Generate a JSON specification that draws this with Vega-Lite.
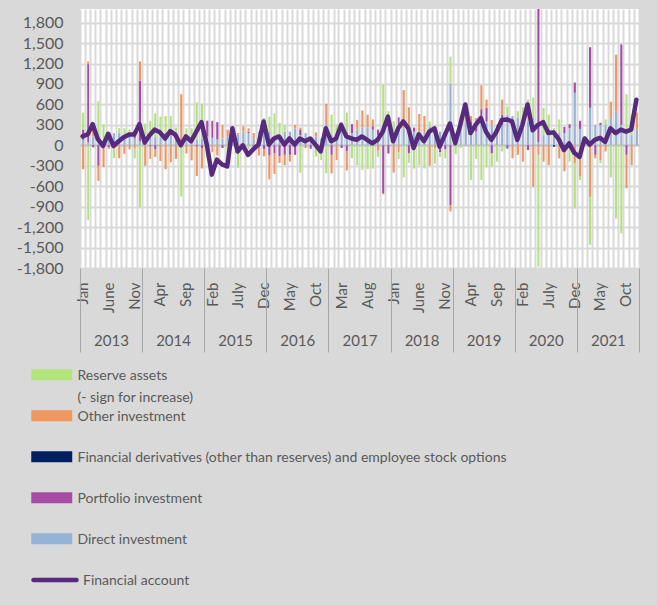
{
"$schema": "https://vega.github.io/schema/vega-lite/v6.json",
"width": 559, "height": 259,
"autosize": {"type": "none"},
"padding": {"left": 80, "top": 9, "right": 18, "bottom": 337},
"background": "#d9d9d9",
"config": {
  "font": "Lato",
  "view": {"fill": "white", "stroke": null},
  "axis": {"labelFont": "Lato", "labelColor": "#595959", "labelFontSize": 15},
  "legend": {"labelFont": "Lato", "labelColor": "#595959", "labelFontSize": 14, "padding": 0}
},
"datasets": {
"bars": [
{"d":"2013-01","s":"Direct investment","v":80},{"d":"2013-01","s":"Portfolio investment","v":150},{"d":"2013-01","s":"Other investment","v":-350},{"d":"2013-01","s":"Reserve assets","v":250},
{"d":"2013-02","s":"Direct investment","v":40},{"d":"2013-02","s":"Portfolio investment","v":1150},{"d":"2013-02","s":"Other investment","v":40},{"d":"2013-02","s":"Reserve assets","v":-1100},
{"d":"2013-03","s":"Direct investment","v":130},{"d":"2013-03","s":"Portfolio investment","v":-30},{"d":"2013-03","s":"Other investment","v":170},
{"d":"2013-04","s":"Direct investment","v":30},{"d":"2013-04","s":"Portfolio investment","v":-300},{"d":"2013-04","s":"Other investment","v":-220},{"d":"2013-04","s":"Reserve assets","v":615},
{"d":"2013-05","s":"Direct investment","v":60},{"d":"2013-05","s":"Other investment","v":-320},{"d":"2013-05","s":"Reserve assets","v":250},
{"d":"2013-06","s":"Direct investment","v":170},{"d":"2013-06","s":"Portfolio investment","v":-30},{"d":"2013-06","s":"Other investment","v":-20},
{"d":"2013-07","s":"Direct investment","v":180},{"d":"2013-07","s":"Other investment","v":-60},{"d":"2013-07","s":"Reserve assets","v":-130},
{"d":"2013-08","s":"Direct investment","v":180},{"d":"2013-08","s":"Other investment","v":-190},{"d":"2013-08","s":"Reserve assets","v":70},
{"d":"2013-09","s":"Direct investment","v":130},{"d":"2013-09","s":"Other investment","v":-125},{"d":"2013-09","s":"Reserve assets","v":120},
{"d":"2013-10","s":"Direct investment","v":150},{"d":"2013-10","s":"Other investment","v":-60},{"d":"2013-10","s":"Reserve assets","v":80},
{"d":"2013-11","s":"Direct investment","v":100},{"d":"2013-11","s":"Portfolio investment","v":100},{"d":"2013-11","s":"Other investment","v":-50},{"d":"2013-11","s":"Reserve assets","v":-140},
{"d":"2013-12","s":"Direct investment","v":60},{"d":"2013-12","s":"Portfolio investment","v":890},{"d":"2013-12","s":"Other investment","v":280},{"d":"2013-12","s":"Reserve assets","v":-910},
{"d":"2014-01","s":"Direct investment","v":100},{"d":"2014-01","s":"Other investment","v":-300},{"d":"2014-01","s":"Reserve assets","v":220},
{"d":"2014-02","s":"Direct investment","v":130},{"d":"2014-02","s":"Portfolio investment","v":-20},{"d":"2014-02","s":"Other investment","v":-180},{"d":"2014-02","s":"Reserve assets","v":230},
{"d":"2014-03","s":"Direct investment","v":120},{"d":"2014-03","s":"Portfolio investment","v":-60},{"d":"2014-03","s":"Other investment","v":-110},{"d":"2014-03","s":"Reserve assets","v":350},
{"d":"2014-04","s":"Direct investment","v":120},{"d":"2014-04","s":"Other investment","v":-230},{"d":"2014-04","s":"Reserve assets","v":300},
{"d":"2014-05","s":"Direct investment","v":100},{"d":"2014-05","s":"Portfolio investment","v":80},{"d":"2014-05","s":"Other investment","v":-350},{"d":"2014-05","s":"Reserve assets","v":250},
{"d":"2014-06","s":"Direct investment","v":150},{"d":"2014-06","s":"Portfolio investment","v":70},{"d":"2014-06","s":"Other investment","v":-250},{"d":"2014-06","s":"Reserve assets","v":210},
{"d":"2014-07","s":"Direct investment","v":200},{"d":"2014-07","s":"Other investment","v":-200},{"d":"2014-07","s":"Reserve assets","v":60},
{"d":"2014-08","s":"Direct investment","v":10},{"d":"2014-08","s":"Other investment","v":740},{"d":"2014-08","s":"Reserve assets","v":-750},
{"d":"2014-09","s":"Direct investment","v":150},{"d":"2014-09","s":"Other investment","v":-120},{"d":"2014-09","s":"Reserve assets","v":100},
{"d":"2014-10","s":"Direct investment","v":120},{"d":"2014-10","s":"Other investment","v":-220},{"d":"2014-10","s":"Reserve assets","v":130},
{"d":"2014-11","s":"Direct investment","v":80},{"d":"2014-11","s":"Portfolio investment","v":-20},{"d":"2014-11","s":"Other investment","v":-430},{"d":"2014-11","s":"Reserve assets","v":550},
{"d":"2014-12","s":"Direct investment","v":100},{"d":"2014-12","s":"Portfolio investment","v":-40},{"d":"2014-12","s":"Other investment","v":-300},{"d":"2014-12","s":"Reserve assets","v":510},
{"d":"2015-01","s":"Direct investment","v":130},{"d":"2015-01","s":"Portfolio investment","v":230},{"d":"2015-01","s":"Other investment","v":-120},{"d":"2015-01","s":"Reserve assets","v":-60},
{"d":"2015-02","s":"Direct investment","v":110},{"d":"2015-02","s":"Portfolio investment","v":250},{"d":"2015-02","s":"Other investment","v":-100},
{"d":"2015-03","s":"Direct investment","v":90},{"d":"2015-03","s":"Portfolio investment","v":250},{"d":"2015-03","s":"Other investment","v":-150},
{"d":"2015-04","s":"Direct investment","v":100},{"d":"2015-04","s":"Portfolio investment","v":-40},{"d":"2015-04","s":"Other investment","v":200},
{"d":"2015-05","s":"Direct investment","v":130},{"d":"2015-05","s":"Other investment","v":100},{"d":"2015-05","s":"Reserve assets","v":-320},
{"d":"2015-06","s":"Direct investment","v":180},{"d":"2015-06","s":"Other investment","v":50},
{"d":"2015-07","s":"Direct investment","v":160},{"d":"2015-07","s":"Other investment","v":20},{"d":"2015-07","s":"Reserve assets","v":-330},
{"d":"2015-08","s":"Direct investment","v":200},{"d":"2015-08","s":"Other investment","v":80},{"d":"2015-08","s":"Reserve assets","v":-30},
{"d":"2015-09","s":"Direct investment","v":180},{"d":"2015-09","s":"Portfolio investment","v":20},{"d":"2015-09","s":"Other investment","v":50},{"d":"2015-09","s":"Reserve assets","v":-60},
{"d":"2015-10","s":"Direct investment","v":100},{"d":"2015-10","s":"Portfolio investment","v":-30},{"d":"2015-10","s":"Other investment","v":80},{"d":"2015-10","s":"Reserve assets","v":-30},
{"d":"2015-11","s":"Direct investment","v":200},{"d":"2015-11","s":"Other investment","v":-150},
{"d":"2015-12","s":"Direct investment","v":200},{"d":"2015-12","s":"Portfolio investment","v":-60},{"d":"2015-12","s":"Other investment","v":-100},{"d":"2015-12","s":"Reserve assets","v":200},
{"d":"2016-01","s":"Direct investment","v":200},{"d":"2016-01","s":"Portfolio investment","v":-150},{"d":"2016-01","s":"Other investment","v":-350},{"d":"2016-01","s":"Reserve assets","v":220},
{"d":"2016-02","s":"Direct investment","v":150},{"d":"2016-02","s":"Portfolio investment","v":-120},{"d":"2016-02","s":"Other investment","v":-300},{"d":"2016-02","s":"Reserve assets","v":320},
{"d":"2016-03","s":"Direct investment","v":150},{"d":"2016-03","s":"Portfolio investment","v":-160},{"d":"2016-03","s":"Other investment","v":-100},{"d":"2016-03","s":"Reserve assets","v":180},
{"d":"2016-04","s":"Direct investment","v":200},{"d":"2016-04","s":"Portfolio investment","v":-140},{"d":"2016-04","s":"Other investment","v":-150},{"d":"2016-04","s":"Reserve assets","v":100},
{"d":"2016-05","s":"Direct investment","v":200},{"d":"2016-05","s":"Portfolio investment","v":-140},{"d":"2016-05","s":"Other investment","v":-100},
{"d":"2016-06","s":"Direct investment","v":250},{"d":"2016-06","s":"Portfolio investment","v":-140},{"d":"2016-06","s":"Other investment","v":50},
{"d":"2016-07","s":"Direct investment","v":150},{"d":"2016-07","s":"Portfolio investment","v":80},{"d":"2016-07","s":"Other investment","v":30},{"d":"2016-07","s":"Reserve assets","v":-400},
{"d":"2016-08","s":"Direct investment","v":180},{"d":"2016-08","s":"Other investment","v":-40},
{"d":"2016-09","s":"Direct investment","v":80},{"d":"2016-09","s":"Portfolio investment","v":-50},
{"d":"2016-10","s":"Direct investment","v":130},{"d":"2016-10","s":"Other investment","v":60},{"d":"2016-10","s":"Reserve assets","v":-165},
{"d":"2016-11","s":"Direct investment","v":100},{"d":"2016-11","s":"Other investment","v":-50},{"d":"2016-11","s":"Reserve assets","v":-165},
{"d":"2016-12","s":"Direct investment","v":300},{"d":"2016-12","s":"Other investment","v":310},{"d":"2016-12","s":"Reserve assets","v":-410},
{"d":"2017-01","s":"Direct investment","v":150},{"d":"2017-01","s":"Portfolio investment","v":-140},{"d":"2017-01","s":"Other investment","v":-270},{"d":"2017-01","s":"Reserve assets","v":300},
{"d":"2017-02","s":"Direct investment","v":100},{"d":"2017-02","s":"Other investment","v":-215},{"d":"2017-02","s":"Reserve assets","v":200},
{"d":"2017-03","s":"Direct investment","v":300},{"d":"2017-03","s":"Portfolio investment","v":-40},{"d":"2017-03","s":"Other investment","v":40},
{"d":"2017-04","s":"Direct investment","v":200},{"d":"2017-04","s":"Portfolio investment","v":-90},{"d":"2017-04","s":"Other investment","v":-280},{"d":"2017-04","s":"Reserve assets","v":280},
{"d":"2017-05","s":"Direct investment","v":180},{"d":"2017-05","s":"Portfolio investment","v":130},{"d":"2017-05","s":"Reserve assets","v":-190},
{"d":"2017-06","s":"Direct investment","v":230},{"d":"2017-06","s":"Other investment","v":140},{"d":"2017-06","s":"Reserve assets","v":-290},
{"d":"2017-07","s":"Direct investment","v":260},{"d":"2017-07","s":"Other investment","v":250},{"d":"2017-07","s":"Reserve assets","v":-360},
{"d":"2017-08","s":"Direct investment","v":260},{"d":"2017-08","s":"Other investment","v":190},{"d":"2017-08","s":"Reserve assets","v":-350},
{"d":"2017-09","s":"Direct investment","v":230},{"d":"2017-09","s":"Portfolio investment","v":50},{"d":"2017-09","s":"Other investment","v":100},{"d":"2017-09","s":"Reserve assets","v":-340},
{"d":"2017-10","s":"Direct investment","v":150},{"d":"2017-10","s":"Portfolio investment","v":80},{"d":"2017-10","s":"Other investment","v":-80},{"d":"2017-10","s":"Reserve assets","v":-90},
{"d":"2017-11","s":"Direct investment","v":200},{"d":"2017-11","s":"Portfolio investment","v":-700},{"d":"2017-11","s":"Other investment","v":-20},{"d":"2017-11","s":"Reserve assets","v":690},
{"d":"2017-12","s":"Direct investment","v":250},{"d":"2017-12","s":"Portfolio investment","v":-120},{"d":"2017-12","s":"Reserve assets","v":250},
{"d":"2018-01","s":"Direct investment","v":200},{"d":"2018-01","s":"Other investment","v":-400},{"d":"2018-01","s":"Reserve assets","v":150},
{"d":"2018-02","s":"Direct investment","v":200},{"d":"2018-02","s":"Portfolio investment","v":210},{"d":"2018-02","s":"Other investment","v":-100},{"d":"2018-02","s":"Reserve assets","v":-100},
{"d":"2018-03","s":"Direct investment","v":250},{"d":"2018-03","s":"Other investment","v":560},{"d":"2018-03","s":"Reserve assets","v":-470},
{"d":"2018-04","s":"Direct investment","v":200},{"d":"2018-04","s":"Portfolio investment","v":-120},{"d":"2018-04","s":"Other investment","v":360},{"d":"2018-04","s":"Reserve assets","v":-140},
{"d":"2018-05","s":"Direct investment","v":200},{"d":"2018-05","s":"Portfolio investment","v":60},{"d":"2018-05","s":"Reserve assets","v":-340},
{"d":"2018-06","s":"Direct investment","v":180},{"d":"2018-06","s":"Other investment","v":280},{"d":"2018-06","s":"Reserve assets","v":-290},
{"d":"2018-07","s":"Direct investment","v":180},{"d":"2018-07","s":"Other investment","v":250},{"d":"2018-07","s":"Reserve assets","v":-340},
{"d":"2018-08","s":"Direct investment","v":270},{"d":"2018-08","s":"Other investment","v":-300},{"d":"2018-08","s":"Reserve assets","v":80},
{"d":"2018-09","s":"Direct investment","v":150},{"d":"2018-09","s":"Other investment","v":-40},{"d":"2018-09","s":"Reserve assets","v":-230},
{"d":"2018-10","s":"Direct investment","v":200},{"d":"2018-10","s":"Portfolio investment","v":-100},{"d":"2018-10","s":"Reserve assets","v":-70},
{"d":"2018-11","s":"Direct investment","v":130},{"d":"2018-11","s":"Portfolio investment","v":-60},{"d":"2018-11","s":"Other investment","v":60},{"d":"2018-11","s":"Reserve assets","v":-130},
{"d":"2018-12","s":"Direct investment","v":900},{"d":"2018-12","s":"Portfolio investment","v":-880},{"d":"2018-12","s":"Other investment","v":-90},{"d":"2018-12","s":"Reserve assets","v":400},
{"d":"2019-01","s":"Direct investment","v":150},{"d":"2019-01","s":"Other investment","v":30},{"d":"2019-01","s":"Reserve assets","v":-130},
{"d":"2019-02","s":"Direct investment","v":250},{"d":"2019-02","s":"Portfolio investment","v":50},{"d":"2019-02","s":"Reserve assets","v":-40},
{"d":"2019-03","s":"Direct investment","v":350},{"d":"2019-03","s":"Other investment","v":100},{"d":"2019-03","s":"Reserve assets","v":100},
{"d":"2019-04","s":"Direct investment","v":260},{"d":"2019-04","s":"Portfolio investment","v":90},{"d":"2019-04","s":"Other investment","v":80},{"d":"2019-04","s":"Reserve assets","v":-510},
{"d":"2019-05","s":"Direct investment","v":200},{"d":"2019-05","s":"Portfolio investment","v":100},{"d":"2019-05","s":"Other investment","v":100},{"d":"2019-05","s":"Reserve assets","v":-200},
{"d":"2019-06","s":"Direct investment","v":330},{"d":"2019-06","s":"Portfolio investment","v":200},{"d":"2019-06","s":"Other investment","v":350},{"d":"2019-06","s":"Reserve assets","v":-510},
{"d":"2019-07","s":"Direct investment","v":350},{"d":"2019-07","s":"Portfolio investment","v":200},{"d":"2019-07","s":"Other investment","v":120},{"d":"2019-07","s":"Reserve assets","v":-320},
{"d":"2019-08","s":"Direct investment","v":300},{"d":"2019-08","s":"Portfolio investment","v":-120},{"d":"2019-08","s":"Other investment","v":70},{"d":"2019-08","s":"Reserve assets","v":-190},
{"d":"2019-09","s":"Direct investment","v":300},{"d":"2019-09","s":"Reserve assets","v":-240},
{"d":"2019-10","s":"Direct investment","v":300},{"d":"2019-10","s":"Portfolio investment","v":150},{"d":"2019-10","s":"Other investment","v":220},{"d":"2019-10","s":"Reserve assets","v":-90},
{"d":"2019-11","s":"Direct investment","v":450},{"d":"2019-11","s":"Portfolio investment","v":-50},{"d":"2019-11","s":"Reserve assets","v":120},
{"d":"2019-12","s":"Direct investment","v":430},{"d":"2019-12","s":"Other investment","v":-190},
{"d":"2020-01","s":"Direct investment","v":400},{"d":"2020-01","s":"Other investment","v":-140},{"d":"2020-01","s":"Reserve assets","v":100},
{"d":"2020-02","s":"Direct investment","v":300},{"d":"2020-02","s":"Other investment","v":-240},{"d":"2020-02","s":"Reserve assets","v":260},
{"d":"2020-03","s":"Direct investment","v":350},{"d":"2020-03","s":"Portfolio investment","v":-70},{"d":"2020-03","s":"Reserve assets","v":320},
{"d":"2020-04","s":"Direct investment","v":400},{"d":"2020-04","s":"Other investment","v":-610},{"d":"2020-04","s":"Reserve assets","v":300},
{"d":"2020-05","s":"Direct investment","v":50},{"d":"2020-05","s":"Portfolio investment","v":2100},{"d":"2020-05","s":"Other investment","v":-140},{"d":"2020-05","s":"Reserve assets","v":-1640},
{"d":"2020-06","s":"Direct investment","v":150},{"d":"2020-06","s":"Other investment","v":-240},{"d":"2020-06","s":"Reserve assets","v":400},
{"d":"2020-07","s":"Direct investment","v":150},{"d":"2020-07","s":"Other investment","v":-290},{"d":"2020-07","s":"Reserve assets","v":300},
{"d":"2020-08","s":"Direct investment","v":150},{"d":"2020-08","s":"Financial derivatives (other than reserves) and employee stock options","v":-20},{"d":"2020-08","s":"Reserve assets","v":100},
{"d":"2020-09","s":"Direct investment","v":180},{"d":"2020-09","s":"Other investment","v":-190},{"d":"2020-09","s":"Reserve assets","v":200},
{"d":"2020-10","s":"Direct investment","v":180},{"d":"2020-10","s":"Portfolio investment","v":90},{"d":"2020-10","s":"Financial derivatives (other than reserves) and employee stock options","v":-20},{"d":"2020-10","s":"Other investment","v":-360},
{"d":"2020-11","s":"Direct investment","v":250},{"d":"2020-11","s":"Portfolio investment","v":60},{"d":"2020-11","s":"Reserve assets","v":-240},
{"d":"2020-12","s":"Direct investment","v":770},{"d":"2020-12","s":"Portfolio investment","v":150},{"d":"2020-12","s":"Other investment","v":-265},{"d":"2020-12","s":"Reserve assets","v":-660},
{"d":"2021-01","s":"Direct investment","v":240},{"d":"2021-01","s":"Portfolio investment","v":120},{"d":"2021-01","s":"Other investment","v":-460},{"d":"2021-01","s":"Reserve assets","v":-50},
{"d":"2021-02","s":"Direct investment","v":80},{"d":"2021-02","s":"Reserve assets","v":50},
{"d":"2021-03","s":"Direct investment","v":550},{"d":"2021-03","s":"Portfolio investment","v":890},{"d":"2021-03","s":"Other investment","v":-760},{"d":"2021-03","s":"Reserve assets","v":-700},
{"d":"2021-04","s":"Direct investment","v":300},{"d":"2021-04","s":"Portfolio investment","v":-140},{"d":"2021-04","s":"Other investment","v":-50},
{"d":"2021-05","s":"Direct investment","v":300},{"d":"2021-05","s":"Portfolio investment","v":30},{"d":"2021-05","s":"Other investment","v":-215},{"d":"2021-05","s":"Reserve assets","v":-50},
{"d":"2021-06","s":"Direct investment","v":300},{"d":"2021-06","s":"Other investment","v":-90},{"d":"2021-06","s":"Reserve assets","v":80},
{"d":"2021-07","s":"Direct investment","v":400},{"d":"2021-07","s":"Other investment","v":240},{"d":"2021-07","s":"Reserve assets","v":-470},
{"d":"2021-08","s":"Direct investment","v":500},{"d":"2021-08","s":"Other investment","v":830},{"d":"2021-08","s":"Reserve assets","v":-1075},
{"d":"2021-09","s":"Direct investment","v":300},{"d":"2021-09","s":"Portfolio investment","v":1180},{"d":"2021-09","s":"Reserve assets","v":-1290},
{"d":"2021-10","s":"Direct investment","v":250},{"d":"2021-10","s":"Portfolio investment","v":-140},{"d":"2021-10","s":"Other investment","v":-490},{"d":"2021-10","s":"Reserve assets","v":500},
{"d":"2021-11","s":"Direct investment","v":150},{"d":"2021-11","s":"Other investment","v":-290},{"d":"2021-11","s":"Reserve assets","v":300},
{"d":"2021-12","s":"Direct investment","v":230},{"d":"2021-12","s":"Other investment","v":250}
],
"fa": [
{"d":"2013-01","s":"Financial account","v":130},{"d":"2013-02","s":"Financial account","v":160},{"d":"2013-03","s":"Financial account","v":310},{"d":"2013-04","s":"Financial account","v":90},{"d":"2013-05","s":"Financial account","v":-10},{"d":"2013-06","s":"Financial account","v":170},{"d":"2013-07","s":"Financial account","v":-10},{"d":"2013-08","s":"Financial account","v":60},{"d":"2013-09","s":"Financial account","v":120},{"d":"2013-10","s":"Financial account","v":160},{"d":"2013-11","s":"Financial account","v":160},{"d":"2013-12","s":"Financial account","v":310},
{"d":"2014-01","s":"Financial account","v":40},{"d":"2014-02","s":"Financial account","v":150},{"d":"2014-03","s":"Financial account","v":230},{"d":"2014-04","s":"Financial account","v":190},{"d":"2014-05","s":"Financial account","v":100},{"d":"2014-06","s":"Financial account","v":210},{"d":"2014-07","s":"Financial account","v":150},{"d":"2014-08","s":"Financial account","v":0},{"d":"2014-09","s":"Financial account","v":130},{"d":"2014-10","s":"Financial account","v":60},{"d":"2014-11","s":"Financial account","v":200},{"d":"2014-12","s":"Financial account","v":340},
{"d":"2015-01","s":"Financial account","v":10},{"d":"2015-02","s":"Financial account","v":-430},{"d":"2015-03","s":"Financial account","v":-210},{"d":"2015-04","s":"Financial account","v":-280},{"d":"2015-05","s":"Financial account","v":-310},{"d":"2015-06","s":"Financial account","v":250},{"d":"2015-07","s":"Financial account","v":-90},{"d":"2015-08","s":"Financial account","v":0},{"d":"2015-09","s":"Financial account","v":-140},{"d":"2015-10","s":"Financial account","v":-60},{"d":"2015-11","s":"Financial account","v":10},{"d":"2015-12","s":"Financial account","v":350},
{"d":"2016-01","s":"Financial account","v":10},{"d":"2016-02","s":"Financial account","v":100},{"d":"2016-03","s":"Financial account","v":130},{"d":"2016-04","s":"Financial account","v":10},{"d":"2016-05","s":"Financial account","v":100},{"d":"2016-06","s":"Financial account","v":10},{"d":"2016-07","s":"Financial account","v":100},{"d":"2016-08","s":"Financial account","v":60},{"d":"2016-09","s":"Financial account","v":100},{"d":"2016-10","s":"Financial account","v":10},{"d":"2016-11","s":"Financial account","v":-90},{"d":"2016-12","s":"Financial account","v":250},
{"d":"2017-01","s":"Financial account","v":60},{"d":"2017-02","s":"Financial account","v":100},{"d":"2017-03","s":"Financial account","v":300},{"d":"2017-04","s":"Financial account","v":130},{"d":"2017-05","s":"Financial account","v":100},{"d":"2017-06","s":"Financial account","v":80},{"d":"2017-07","s":"Financial account","v":130},{"d":"2017-08","s":"Financial account","v":80},{"d":"2017-09","s":"Financial account","v":30},{"d":"2017-10","s":"Financial account","v":80},{"d":"2017-11","s":"Financial account","v":200},{"d":"2017-12","s":"Financial account","v":420},
{"d":"2018-01","s":"Financial account","v":60},{"d":"2018-02","s":"Financial account","v":250},{"d":"2018-03","s":"Financial account","v":350},{"d":"2018-04","s":"Financial account","v":250},{"d":"2018-05","s":"Financial account","v":-40},{"d":"2018-06","s":"Financial account","v":160},{"d":"2018-07","s":"Financial account","v":60},{"d":"2018-08","s":"Financial account","v":200},{"d":"2018-09","s":"Financial account","v":250},{"d":"2018-10","s":"Financial account","v":-20},{"d":"2018-11","s":"Financial account","v":150},{"d":"2018-12","s":"Financial account","v":320},
{"d":"2019-01","s":"Financial account","v":30},{"d":"2019-02","s":"Financial account","v":300},{"d":"2019-03","s":"Financial account","v":600},{"d":"2019-04","s":"Financial account","v":180},{"d":"2019-05","s":"Financial account","v":300},{"d":"2019-06","s":"Financial account","v":400},{"d":"2019-07","s":"Financial account","v":200},{"d":"2019-08","s":"Financial account","v":80},{"d":"2019-09","s":"Financial account","v":200},{"d":"2019-10","s":"Financial account","v":370},{"d":"2019-11","s":"Financial account","v":380},{"d":"2019-12","s":"Financial account","v":350},
{"d":"2020-01","s":"Financial account","v":80},{"d":"2020-02","s":"Financial account","v":300},{"d":"2020-03","s":"Financial account","v":600},{"d":"2020-04","s":"Financial account","v":220},{"d":"2020-05","s":"Financial account","v":300},{"d":"2020-06","s":"Financial account","v":340},{"d":"2020-07","s":"Financial account","v":180},{"d":"2020-08","s":"Financial account","v":190},{"d":"2020-09","s":"Financial account","v":90},{"d":"2020-10","s":"Financial account","v":-70},{"d":"2020-11","s":"Financial account","v":30},{"d":"2020-12","s":"Financial account","v":-110},
{"d":"2021-01","s":"Financial account","v":-170},{"d":"2021-02","s":"Financial account","v":100},{"d":"2021-03","s":"Financial account","v":10},{"d":"2021-04","s":"Financial account","v":80},{"d":"2021-05","s":"Financial account","v":110},{"d":"2021-06","s":"Financial account","v":50},{"d":"2021-07","s":"Financial account","v":250},{"d":"2021-08","s":"Financial account","v":180},{"d":"2021-09","s":"Financial account","v":230},{"d":"2021-10","s":"Financial account","v":200},{"d":"2021-11","s":"Financial account","v":230},{"d":"2021-12","s":"Financial account","v":670}
]
},
"layer": [
{
  "data": {"name": "bars"},
  "mark": {"type": "bar", "width": {"band": 0.6}, "clip": true},
  "encoding": {
    "x": {"field": "d", "timeUnit": "utcyearmonth", "type": "temporal",
      "scale": {"type": "utc", "domain": [{"year": 2013, "month": 1, "date": 1, "utc": true}, {"year": 2022, "month": 1, "date": 1, "utc": true}]},
      "axis": {"orient": "bottom", "title": null, "tickCount": {"interval": "month", "step": 1},
        "grid": true, "gridColor": "#d9d9d9", "gridWidth": 2, "ticks": false, "domain": false,
        "labelExpr": "((utcyear(datum.value) - 2013) * 12 + utcmonth(datum.value)) % 5 == 0 && utcyear(datum.value) < 2022 ? ['Jan','Feb','Mar','Apr','May','June','July','Aug','Sep','Oct','Nov','Dec'][utcmonth(datum.value)] : ''",
        "labelAngle": -90, "labelAlign": "right", "labelBaseline": "middle", "labelOffset": 2.6, "labelPadding": 14,
        "labelOverlap": false, "labelFlush": false, "labelBound": false}},
    "y": {"field": "v", "type": "quantitative", "stack": "zero",
      "scale": {"domain": [-1800, 2000], "nice": false},
      "axis": {"title": null, "values": [-1800, -1500, -1200, -900, -600, -300, 0, 300, 600, 900, 1200, 1500, 1800],
        "labelExpr": "replace(format(datum.value, ','), '\u2212', '-')",
        "grid": true, "gridColor": {"condition": {"test": "datum.value === 0", "value": "#bfbfbf"}, "value": "#d9d9d9"}, "gridWidth": 2,
        "domain": false, "ticks": false, "labelPadding": 17, "labelFontSize": 16}},
    "fill": {"field": "s", "type": "nominal",
      "scale": {"domain": ["Direct investment", "Portfolio investment", "Financial derivatives (other than reserves) and employee stock options", "Other investment", "Reserve assets"],
                "range": ["#95b3d7", "#a64ca6", "#002060", "#f0975f", "#b3e57a"]},
      "legend": {"orient": "none", "legendX": -38.75, "legendY": 355.25, "title": null,
        "values": ["Reserve assets", "Other investment", "Financial derivatives (other than reserves) and employee stock options", "Portfolio investment", "Direct investment"],
        "symbolType": "M-2,-0.54H2V0.54H-2Z", "symbolSize": 420, "symbolStrokeWidth": 0, "symbolOpacity": 1,
        "labelExpr": "datum.label == 'Reserve assets' ? ['Reserve assets', '(- sign for increase)'] : datum.label",
        "labelBaseline": "alphabetic", "labelOffset": 15.25, "labelLimit": 600, "gridAlign": "all", "rowPadding": 0,
        "encode": {"labels": {"update": {"dy": {"value": 5}, "lineHeight": {"value": 22}}}}}},
    "order": {"field": "d", "type": "ordinal"}
  }
},
{
  "data": {"name": "fa"},
  "mark": {"type": "line", "strokeWidth": 4.5, "strokeJoin": "round", "strokeCap": "round", "clip": true},
  "encoding": {
    "x": {"field": "d", "timeUnit": "utcyearmonth", "type": "temporal", "bandPosition": 0.5,
      "scale": {"type": "utc", "domain": [{"year": 2013, "month": 1, "date": 1, "utc": true}, {"year": 2022, "month": 1, "date": 1, "utc": true}]},
      "axis": {"orient": "bottom", "title": null, "tickCount": {"interval": "year", "step": 1},
        "grid": false, "domain": false, "ticks": true, "tickSize": 84, "tickColor": "#a6a6a6", "tickWidth": 1,
        "labelExpr": "utcyear(datum.value) < 2022 ? '' + utcyear(datum.value) : ''",
        "labelAngle": 0, "labelAlign": "center", "labelBaseline": "top", "labelOffset": 31, "labelPadding": -19,
        "labelOverlap": false, "labelFlush": false, "labelBound": false}},
    "y": {"field": "v", "type": "quantitative",
      "scale": {"domain": [-1800, 2000], "nice": false},
      "axis": {"title": null, "values": [-1800, -1500, -1200, -900, -600, -300, 0, 300, 600, 900, 1200, 1500, 1800],
        "labelExpr": "replace(format(datum.value, ','), '\u2212', '-')",
        "grid": true, "gridColor": {"condition": {"test": "datum.value === 0", "value": "#bfbfbf"}, "value": "#d9d9d9"}, "gridWidth": 2,
        "domain": false, "ticks": false, "labelPadding": 17, "labelFontSize": 16}},
    "stroke": {"field": "s", "type": "nominal",
      "scale": {"domain": ["Financial account"], "range": ["#582a7d"]},
      "legend": {"orient": "none", "legendX": -49, "legendY": 547, "title": null,
        "symbolType": "stroke", "symbolSize": 1849, "symbolStrokeWidth": 4.5,
        "labelBaseline": "alphabetic", "labelOffset": 4, "labelLimit": 600,
        "encode": {"labels": {"update": {"dy": {"value": 5}}}, "symbols": {"update": {"strokeCap": {"value": "round"}}}}}}
  }
}
],
"resolve": {"axis": {"x": "independent"}}
}
